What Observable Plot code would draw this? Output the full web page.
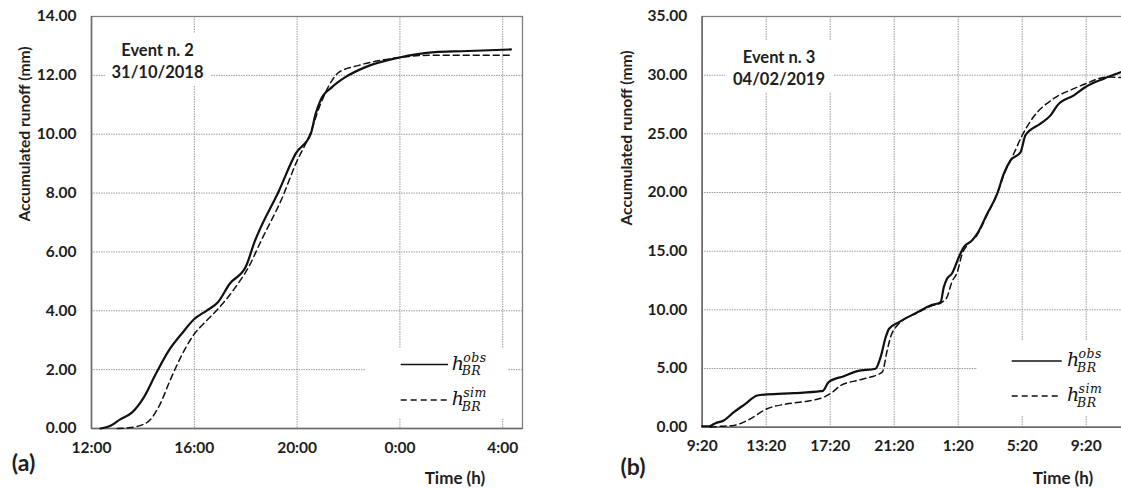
<!DOCTYPE html>
<html>
<head>
<meta charset="utf-8">
<script src="https://cdn.jsdelivr.net/npm/d3@7"></script>
<script src="https://cdn.jsdelivr.net/npm/@observablehq/plot@0.6"></script>
<style>
  html, body { margin: 0; padding: 0; background: #fff; overflow: hidden; }
  #wrap { position: relative; width: 1121px; height: 489px; overflow: hidden; font-family: Lato, "Open Sans", sans-serif; font-weight: bold; color: #1e1e1e; }
  .ytitle { width: 260px; height: 20px; line-height: 20px; text-align: center; font-size: 15.6px; transform: rotate(-90deg); transform-origin: 50% 50%; white-space: nowrap; }
  .xtitle { font-size: 17px; white-space: nowrap; transform: translate(-50%, -50%); }
  .panelTag { font-size: 23px; white-space: nowrap; transform: translate(-50%, -50%); }
  .event { background: #fff; text-align: center; font-size: 16.5px; }
  .event div { position: absolute; left: 0; right: 0; transform: translateY(-50%); white-space: nowrap; }
  .legend { background: #fff; font-weight: normal; }
</style>
</head>
<body>
<div id="wrap"></div>
<script>
// ---------- data ----------
// Panel (a): Event n. 2, hours since 12:00 on 31/10/2018
const obsA_t = [0.35, 0.74, 1.13, 1.57, 2.03, 2.5, 3.0, 3.5, 4.0, 4.47, 4.92, 5.37, 6.02, 6.34, 7.3, 7.95, 8.53, 8.72, 8.91, 9.36, 9.88, 10.66, 11.94, 13.36, 14.39, 16.32];
const obsA_v = [0, 0.09, 0.32, 0.54, 1.05, 1.85, 2.64, 3.21, 3.72, 4.0, 4.29, 4.91, 5.53, 6.33, 8.09, 9.35, 10.01, 10.69, 11.15, 11.6, 11.94, 12.28, 12.6, 12.79, 12.82, 12.88];
const simA_t = [1.0, 1.5, 2.15, 2.67, 3.05, 3.5, 3.95, 4.47, 4.92, 5.5, 6.14, 6.6, 7.43, 7.95, 8.5, 8.9, 9.36, 9.62, 10.4, 11.94, 13.1, 16.3];
const simA_v = [0, 0.03, 0.2, 0.83, 1.62, 2.47, 3.15, 3.66, 4.06, 4.68, 5.53, 6.38, 7.86, 9.0, 10.0, 11.0, 11.83, 12.1, 12.34, 12.6, 12.68, 12.68];
const xTicksA = [0, 4, 8, 12, 16];
const xLabelsA = ["12:00", "16:00", "20:00", "0:00", "4:00"];
const yTicksA = [0, 2, 4, 6, 8, 10, 12, 14];

// Panel (b): Event n. 3, hours since 9:20 on 04/02/2019
const obsB_t = [0, 0.42, 0.83, 1.35, 1.98, 2.7, 3.44, 4.06, 5.72, 7.4, 7.55, 7.9, 8.85, 9.69, 10.83, 11.15, 11.47, 11.68, 12.3, 13.45, 14.27, 14.9, 15.1, 15.3, 15.6, 16.04, 16.35, 16.87, 17.19, 17.81, 18.44, 18.85, 19.27, 19.9, 20.2, 21.14, 21.77, 22.2, 23.23, 23.96, 25.1, 26.2];
const obsB_v = [0.08, 0.08, 0.34, 0.57, 1.28, 1.99, 2.7, 2.79, 2.9, 3.07, 3.1, 3.85, 4.35, 4.78, 4.98, 5.97, 7.67, 8.39, 8.95, 9.8, 10.37, 10.66, 11.94, 12.65, 13.08, 14.49, 15.35, 15.92, 16.49, 18.19, 19.9, 21.6, 22.74, 23.44, 24.87, 25.87, 26.57, 27.43, 28.28, 28.99, 29.7, 30.27];
const simB_t = [0.5, 0.9, 1.98, 2.82, 4.06, 5.3, 6.56, 7.6, 8.14, 8.65, 9.9, 11.25, 11.56, 11.77, 12.19, 13.45, 14.27, 15.0, 15.3, 15.6, 15.94, 16.25, 16.56, 17.19, 17.81, 18.44, 18.85, 19.47, 20.0, 20.7, 21.96, 23.23, 23.96, 25.3, 26.2];
const simB_v = [0, 0.05, 0.15, 0.57, 1.57, 1.99, 2.22, 2.56, 2.98, 3.55, 4.05, 4.69, 6.54, 7.67, 8.67, 9.75, 10.3, 10.66, 11.08, 12.36, 13.21, 14.78, 15.49, 16.4, 18.1, 19.9, 21.5, 23.3, 24.87, 26.43, 28.0, 28.85, 29.27, 29.84, 29.79];
const xTicksB = [0, 4, 8, 12, 16, 20, 24];
const xLabelsB = ["9:20", "13:20", "17:20", "21:20", "1:20", "5:20", "9:20"];
const yTicksB = [0, 5, 10, 15, 20, 25, 30, 35];

const toRows = (t, v) => t.map((d, i) => ({t: d, v: v[i]}));

// ---------- drawing ----------
const wrap = document.getElementById("wrap");
const place = (el, left, top) => { el.style.position = "absolute"; el.style.left = left + "px"; el.style.top = top + "px"; wrap.appendChild(el); return el; };

function panel(o) {
  const grid = {stroke: "#9a9a9a", strokeOpacity: 1, strokeWidth: 1, strokeDasharray: "1.5,1"};
  return Plot.plot({
    width: o.width, height: o.height,
    marginLeft: o.ml, marginRight: o.mr, marginTop: o.mt, marginBottom: o.mb,
    style: {fontFamily: "Lato, 'Open Sans', sans-serif", fontSize: "15.5px", fontWeight: "bold", color: "#1e1e1e", background: "transparent", overflow: "visible", maxWidth: "none"},
    x: {domain: o.xDomain},
    y: {domain: o.yDomain},
    marks: [
      Plot.gridX(o.xTicks, grid),
      Plot.gridY(o.yTicks, grid),
      Plot.frame({stroke: "#808080", strokeWidth: 1.3}),
      Plot.ruleY([o.yDomain[0]], {stroke: "#6a6a6a", strokeWidth: 1.5}),
      Plot.ruleX([o.xDomain[0]], {stroke: "#6a6a6a", strokeWidth: 1.5}),
      Plot.axisX(o.xTicks, {tickSize: 0, tickPadding: 13, label: null, tickFormat: d => o.xLabels[o.xTicks.indexOf(d)]}),
      Plot.axisY(o.yTicks, {tickSize: 0, tickPadding: 15, label: null, tickFormat: d => d.toFixed(2)}),
      Plot.line(o.sim, {x: "t", y: "v", stroke: "#111", strokeWidth: 1.5, strokeDasharray: "6,4", curve: "monotone-x"}),
      Plot.line(o.obs, {x: "t", y: "v", stroke: "#111", strokeWidth: 2.2, curve: "monotone-x"})
    ]
  });
}

const pA = panel({
  width: 540, height: 489, ml: 91, mr: 18, mt: 16, mb: 61,
  xDomain: [0, 16.77], yDomain: [0, 14],
  xTicks: xTicksA, xLabels: xLabelsA, yTicks: yTicksA,
  obs: toRows(obsA_t, obsA_v), sim: toRows(simA_t, simA_v)
});
place(pA, 0, 0);

const pB = panel({
  width: 580, height: 489, ml: 141.7, mr: 14.3, mt: 16, mb: 62.3,
  xDomain: [0, 26.5], yDomain: [0, 35],
  xTicks: xTicksB, xLabels: xLabelsB, yTicks: yTicksB,
  obs: toRows(obsB_t, obsB_v), sim: toRows(simB_t, simB_v)
});
place(pB, 560, 0);

// axis titles
function yTitle(cx, cy) {
  const d = document.createElement("div");
  d.className = "ytitle";
  d.textContent = "Accumulated runoff (mm)";
  place(d, cx - 130, cy - 10);
}
yTitle(23.5, 134);
yTitle(625.5, 138);

function xTitle(cx, cy) {
  const d = document.createElement("div");
  d.className = "xtitle";
  d.textContent = "Time (h)";
  place(d, cx, cy);
}
xTitle(455, 477);
xTitle(1063, 477);

function tag(txt, cx, cy) {
  const d = document.createElement("div");
  d.className = "panelTag";
  d.textContent = txt;
  place(d, cx, cy);
}
tag("(a)", 23.5, 462);
tag("(b)", 633, 466);

// event annotation boxes
function eventBox(l1, l2, left, top, w, h) {
  const d = document.createElement("div");
  d.className = "event";
  d.style.width = w + "px"; d.style.height = h + "px";
  const a = document.createElement("div"); a.textContent = l1; a.style.top = "17px";
  const b = document.createElement("div"); b.textContent = l2; b.style.top = "39px";
  d.appendChild(a); d.appendChild(b);
  place(d, left, top);
}
eventBox("Event n. 2", "31/10/2018", 105, 33, 105, 52);
eventBox("Event n. 3", "04/02/2019", 725, 40, 108, 52);

// legends
const NS = "http://www.w3.org/2000/svg";
function legend(left, top, w, h, x0, x1, rows, labelX) {
  const d = document.createElement("div");
  d.className = "legend";
  d.style.width = w + "px"; d.style.height = h + "px";
  const s = document.createElementNS(NS, "svg");
  s.setAttribute("width", w); s.setAttribute("height", h);
  rows.forEach(r => {
    const ln = document.createElementNS(NS, "line");
    ln.setAttribute("x1", x0); ln.setAttribute("x2", x1);
    ln.setAttribute("y1", r.y); ln.setAttribute("y2", r.y);
    ln.setAttribute("stroke", "#111"); ln.setAttribute("stroke-width", "1.6");
    if (r.dash) ln.setAttribute("stroke-dasharray", "6,4");
    s.appendChild(ln);
    const mk = (txt, x, y, size, ls) => {
      const t = document.createElementNS(NS, "text");
      t.setAttribute("x", x); t.setAttribute("y", y);
      t.setAttribute("font-family", "'DejaVu Serif', serif");
      t.setAttribute("font-style", "italic");
      t.setAttribute("font-weight", "normal");
      t.setAttribute("font-size", size);
      if (ls) t.setAttribute("letter-spacing", ls);
      t.setAttribute("fill", "#111");
      t.textContent = txt;
      s.appendChild(t);
    };
    mk("h", labelX, r.y + 5, 19);
    mk(r.sup, labelX + 11.5, r.y - 3, 12.5, 0.5);
    mk("BR", labelX + 10, r.y + 10.5, 12.5, 0.5);
  });
  d.appendChild(s);
  place(d, left, top);
}
legend(365, 348, 143, 70, 35.7, 83, [{y: 16.5, sup: "obs"}, {y: 52, sup: "sim", dash: true}], 86.7);
legend(977, 340, 150, 75, 34.7, 84.7, [{y: 21, sup: "obs"}, {y: 56, sup: "sim", dash: true}], 90);
</script>
</body>
</html>
